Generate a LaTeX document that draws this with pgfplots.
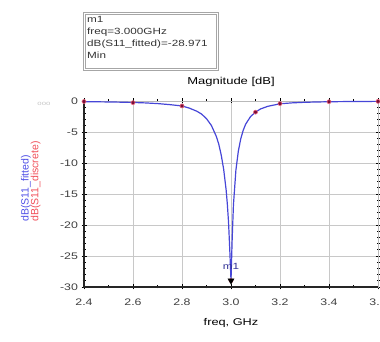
\documentclass[border=0pt]{standalone}
\usepackage{fontspec}
\setmainfont{Liberation Sans}[FakeStretch=1.3]
\newfontfamily\plainsans{Liberation Sans}
\usepackage{pgfplots}
\pgfplotsset{compat=1.18}
\definecolor{fitblue}{RGB}{70,70,215}
\definecolor{discred}{RGB}{120,15,55}
\definecolor{discpink}{RGB}{235,100,125}
\definecolor{labred}{RGB}{240,80,90}
\definecolor{labblue}{RGB}{80,80,230}
\definecolor{gridgray}{RGB}{200,200,200}
\begin{document}
\begin{tikzpicture}
\begin{axis}[
  at={(84pt,55pt)}, anchor=south west,
  scale only axis, width=294pt, height=186pt,
  xmin=2.4, xmax=3.6, ymin=-30, ymax=0,
  xtick={2.4,2.6,2.8,3.0,3.2,3.4,3.6},
  xticklabels={2.4,2.6,2.8,3.0,3.2,3.4,3.6},
  ytick={-30,-25,-20,-15,-10,-5,0},
  yticklabels={-30,-25,-20,-15,-10,-5,0},
  minor x tick num=1, minor y tick num=4,
  grid=major, major grid style={gridgray, line width=0.7pt},
  tick align=center, major tick length=5pt, minor tick length=3pt,
  tick style={black, line width=0.6pt},
  axis line style={gray!55, line width=0.8pt},
  title={Magnitude [dB]},
  title style={at={(0.5,1)}, anchor=base, yshift=10pt, font=\fontsize{10}{12}\selectfont},
  xlabel={freq, GHz},
  xlabel style={at={(0.5,0)}, anchor=base, yshift=-39pt, font=\fontsize{9.8}{12}\selectfont},
  ticklabel style={font=\fontsize{9.5}{11}\selectfont, text=black!75},
  xticklabel style={anchor=base, yshift=-16pt},
  /pgf/number format/assume math mode=true,
  clip=false,
]
\addplot[fitblue, line width=1.2pt, no markers] coordinates {
(2.40,-0.107)(2.45,-0.128)(2.50,-0.154)(2.55,-0.189)(2.60,-0.238)(2.65,-0.308)
(2.70,-0.415)(2.75,-0.585)(2.80,-0.80)(2.83,-1.15)(2.86,-1.64)(2.88,-2.11)
(2.90,-2.85)(2.92,-3.95)(2.94,-5.70)(2.95,-6.95)(2.96,-8.70)(2.97,-11.0)
(2.98,-14.3)(2.985,-16.6)(2.99,-19.6)(2.995,-24.0)(3.000,-28.971)(3.005,-22.0)
(3.01,-16.73)(3.02,-11.155)(3.03,-8.062)(3.04,-6.071)(3.05,-4.702)(3.06,-3.724)
(3.08,-2.50)(3.10,-1.80)(3.12,-1.29)(3.15,-0.86)(3.20,-0.45)(3.25,-0.30)
(3.30,-0.21)(3.35,-0.16)(3.40,-0.12)(3.45,-0.10)(3.50,-0.08)(3.55,-0.07)(3.60,-0.06)
};
\addplot[only marks, mark=*, mark size=2pt, mark options={draw=discpink, fill=discred, line width=0.6pt}] coordinates {
(2.4,-0.08)(2.6,-0.27)(2.8,-0.80)(3.0,-28.971)(3.1,-1.80)(3.2,-0.42)(3.4,-0.12)(3.6,-0.06)
};
\addplot[only marks, mark=triangle*, mark size=3.5pt, mark options={rotate=180, fill=black, draw=black}] coordinates {(3.0,-28.971)};
\node[anchor=base, yshift=11pt, text=fitblue!70!black, font=\fontsize{9}{11}\selectfont] at (axis cs:3.0,-28.971) {m1};
\draw[black!85, line width=1.2pt] (rel axis cs:0,1) -- (rel axis cs:0,0) -- (rel axis cs:1,0);
\end{axis}
% marker readout box
\draw[gray!70, line width=0.7pt] (83pt,272pt) rectangle (218pt,330pt);
\draw[gray!70, line width=0.5pt] (85pt,274pt) rectangle (216pt,328pt);
\node[anchor=north west, align=left, inner sep=0pt, font=\fontsize{9}{12}\selectfont, text=black!80] at (87pt,326pt)
  {m1\\freq=3.000GHz\\dB(S11\_fitted)=-28.971\\Min};
% y labels
\node[rotate=90, anchor=base west, inner sep=0pt, text=labblue, font=\plainsans\fontsize{10.5}{12}\selectfont] at (28.5pt,120pt) {dB(S11\_fitted)};
\node[rotate=90, anchor=base west, inner sep=0pt, text=labred, font=\plainsans\fontsize{10.5}{12}\selectfont] at (38.5pt,120pt) {dB(S11\_discrete)};
\node[text=gray!45, font=\fontsize{6}{7}\selectfont, inner sep=0pt] at (44pt,238pt) {ooo};
\pgfresetboundingbox
\path (0pt,0pt) rectangle (380pt,342pt);
\end{tikzpicture}
\end{document}
